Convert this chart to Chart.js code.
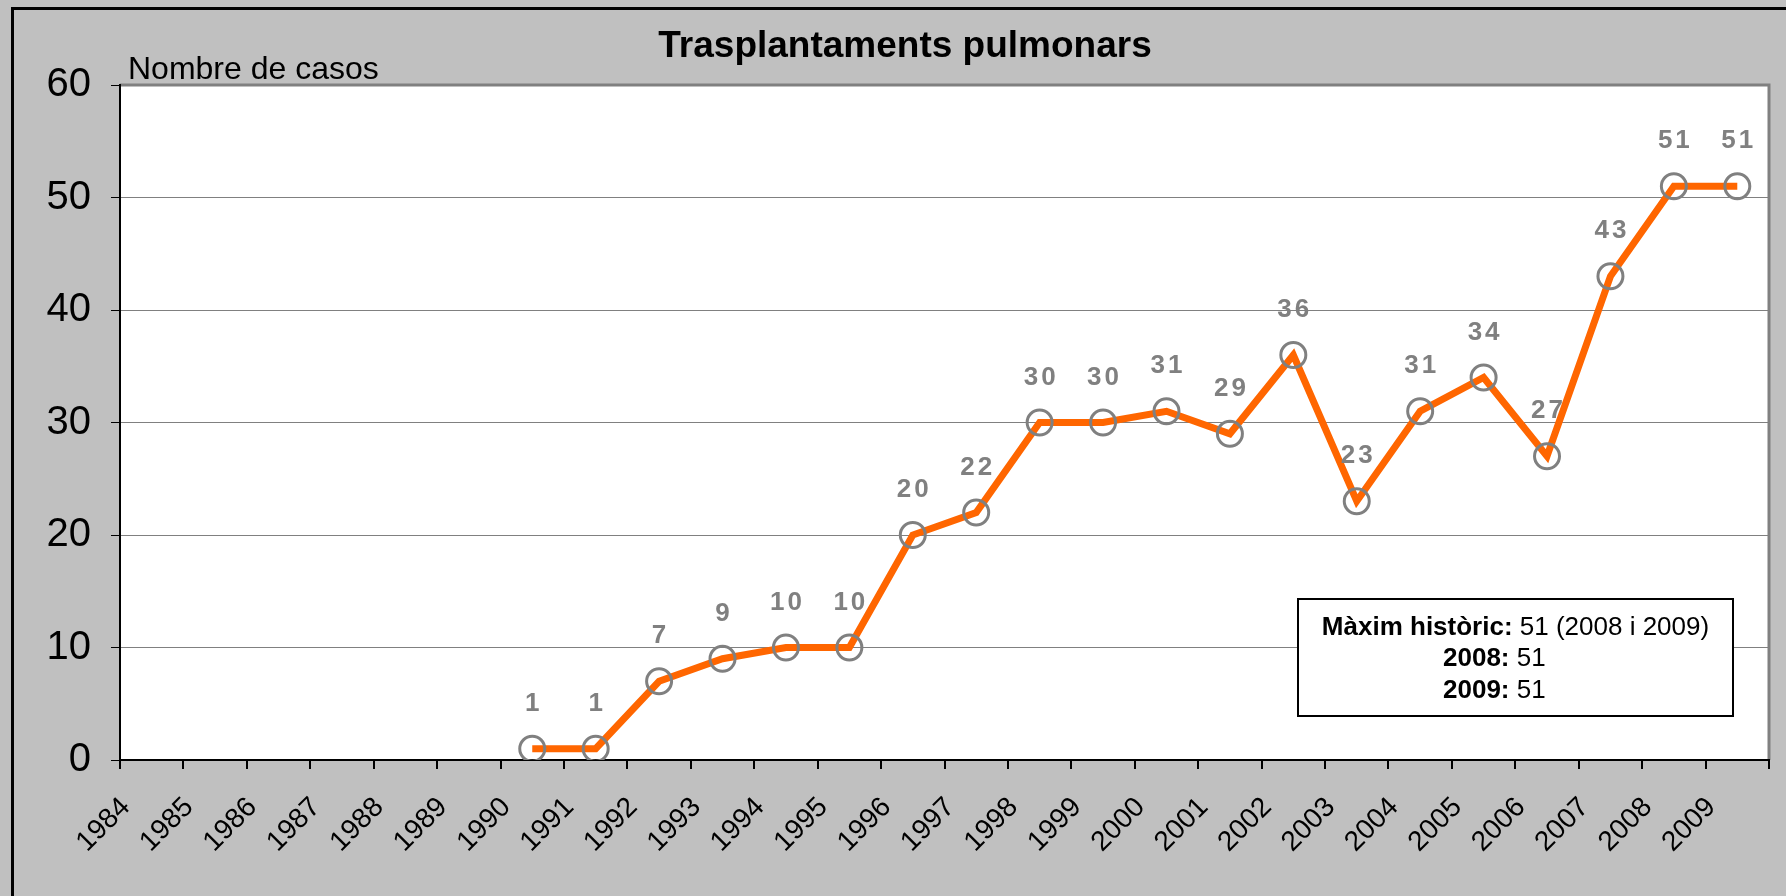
<!DOCTYPE html>
<html>
<head>
<meta charset="utf-8">
<script src="https://cdn.jsdelivr.net/npm/chart.js@4"></script>
<style>
  html, body { margin: 0; padding: 0; background: #c0c0c0; }
  #wrap { width: 1786px; height: 896px; }
</style>
</head>
<body>
<div id="wrap"><canvas id="lungChart" width="1786" height="896"></canvas></div>
<script>
const years = ['1984','1985','1986','1987','1988','1989','1990','1991','1992','1993','1994','1995','1996','1997','1998','1999','2000','2001','2002','2003','2004','2005','2006','2007','2008','2009'];
const cases = [null, null, null, null, null, null, 1, 1, 7, 9, 10, 10, 20, 22, 30, 30, 31, 29, 36, 23, 31, 34, 27, 43, 51, 51];
const yTicks = [0, 10, 20, 30, 40, 50, 60];

const chartTitle = 'Trasplantaments pulmonars';
const yAxisTitle = 'Nombre de casos';
const noteLines = [
  ['Màxim històric:', ' 51 (2008 i 2009)'],
  ['2008:', ' 51'],
  ['2009:', ' 51']
];

const FONT = '"Liberation Sans", Arial, sans-serif';

// fons gris, marc i area blanca
const backgroundPlugin = {
  id: 'background',
  beforeDraw(chart) {
    const ctx = chart.ctx;
    const a = chart.chartArea;
    ctx.save();
    ctx.fillStyle = '#c0c0c0';
    ctx.fillRect(0, 0, chart.width, chart.height);
    ctx.strokeStyle = '#000';
    ctx.lineWidth = 3;
    ctx.beginPath();
    ctx.moveTo(12.5, chart.height + 5);
    ctx.lineTo(12.5, 8.5);
    ctx.lineTo(chart.width + 5, 8.5);
    ctx.stroke();
    ctx.fillStyle = '#fff';
    ctx.fillRect(a.left, a.top, a.right - a.left, a.bottom - a.top);
    ctx.strokeStyle = '#808080';
    ctx.lineWidth = 3;
    ctx.beginPath();
    ctx.moveTo(a.left, a.top);
    ctx.lineTo(a.right, a.top);
    ctx.lineTo(a.right, a.bottom);
    ctx.stroke();
    ctx.restore();
  }
};

// titol, etiquetes de valors i quadre de text
const labelsPlugin = {
  id: 'labels',
  afterDraw(chart) {
    const ctx = chart.ctx;
    ctx.save();
    ctx.fillStyle = '#000';
    ctx.textAlign = 'center';
    ctx.textBaseline = 'alphabetic';
    ctx.font = 'bold 37px ' + FONT;
    ctx.fillText(chartTitle, 905, 57);

    ctx.textAlign = 'left';
    ctx.font = '32px ' + FONT;
    ctx.fillText(yAxisTitle, 128, 79);

    // valors sobre els punts
    const meta = chart.getDatasetMeta(0);
    ctx.fillStyle = '#808080';
    ctx.font = 'bold 26px ' + FONT;
    ctx.textAlign = 'center';
    ctx.letterSpacing = '3px';
    meta.data.forEach((pt, i) => {
      if (cases[i] === null) return;
      ctx.fillText(String(cases[i]), pt.x + 1.5, pt.y - 38);
    });
    ctx.letterSpacing = '0px';

    // quadre
    const bx = 1298, by = 599, bw = 435, bh = 117;
    ctx.fillStyle = '#fff';
    ctx.fillRect(bx, by, bw, bh);
    ctx.strokeStyle = '#000';
    ctx.lineWidth = 2;
    ctx.strokeRect(bx, by, bw, bh);

    const baselines = [635, 666, 698];
    noteLines.forEach((line, i) => {
      ctx.font = 'bold 26px ' + FONT;
      const w1 = ctx.measureText(line[0]).width;
      ctx.font = '26px ' + FONT;
      const w2 = ctx.measureText(line[1]).width;
      let x0 = i === 0 ? bx + bw / 2 - (w1 + w2) / 2 : 1443;
      ctx.fillStyle = '#000';
      ctx.textAlign = 'left';
      ctx.font = 'bold 26px ' + FONT;
      ctx.fillText(line[0], x0, baselines[i]);
      ctx.font = '26px ' + FONT;
      ctx.fillText(line[1], x0 + w1, baselines[i]);
    });
    ctx.restore();
  }
};

new Chart(document.getElementById('lungChart'), {
  type: 'line',
  data: {
    labels: years,
    datasets: [{
      label: 'Trasplantaments',
      data: cases,
      borderColor: '#ff6600',
      borderWidth: 7,
      tension: 0,
      pointRadius: 12.5,
      pointHoverRadius: 12.5,
      pointBorderColor: '#808080',
      pointBackgroundColor: 'rgba(0,0,0,0)',
      pointBorderWidth: 3
    }]
  },
  options: {
    responsive: false,
    animation: false,
    layout: { padding: { top: 85, right: 17, left: 0, bottom: 0 } },
    plugins: {
      legend: { display: false },
      title: { display: false },
      tooltip: { enabled: false }
    },
    scales: {
      x: {
        offset: true,
        afterFit(scale) { scale.height = 136; },
        border: { color: '#000', width: 2 },
        grid: {
          offset: true,
          drawOnChartArea: false,
          tickColor: '#000',
          tickLength: 9,
          lineWidth: 2
        },
        ticks: {
          autoSkip: false,
          minRotation: 45,
          maxRotation: 45,
          labelOffset: -26,
          padding: 22,
          color: '#000',
          font: { family: FONT, size: 28 }
        }
      },
      y: {
        min: 0,
        max: 60,
        afterFit(scale) { scale.width = 120; },
        afterBuildTicks(scale) { scale.ticks = yTicks.map(v => ({ value: v })); },
        border: { color: '#000', width: 2 },
        grid: {
          color: '#808080',
          lineWidth: 1,
          tickColor: '#000',
          tickLength: 9
        },
        ticks: {
          padding: 20,
          color: '#000',
          font: { family: FONT, size: 40 }
        }
      }
    }
  },
  plugins: [backgroundPlugin, labelsPlugin]
});
</script>
</body>
</html>
